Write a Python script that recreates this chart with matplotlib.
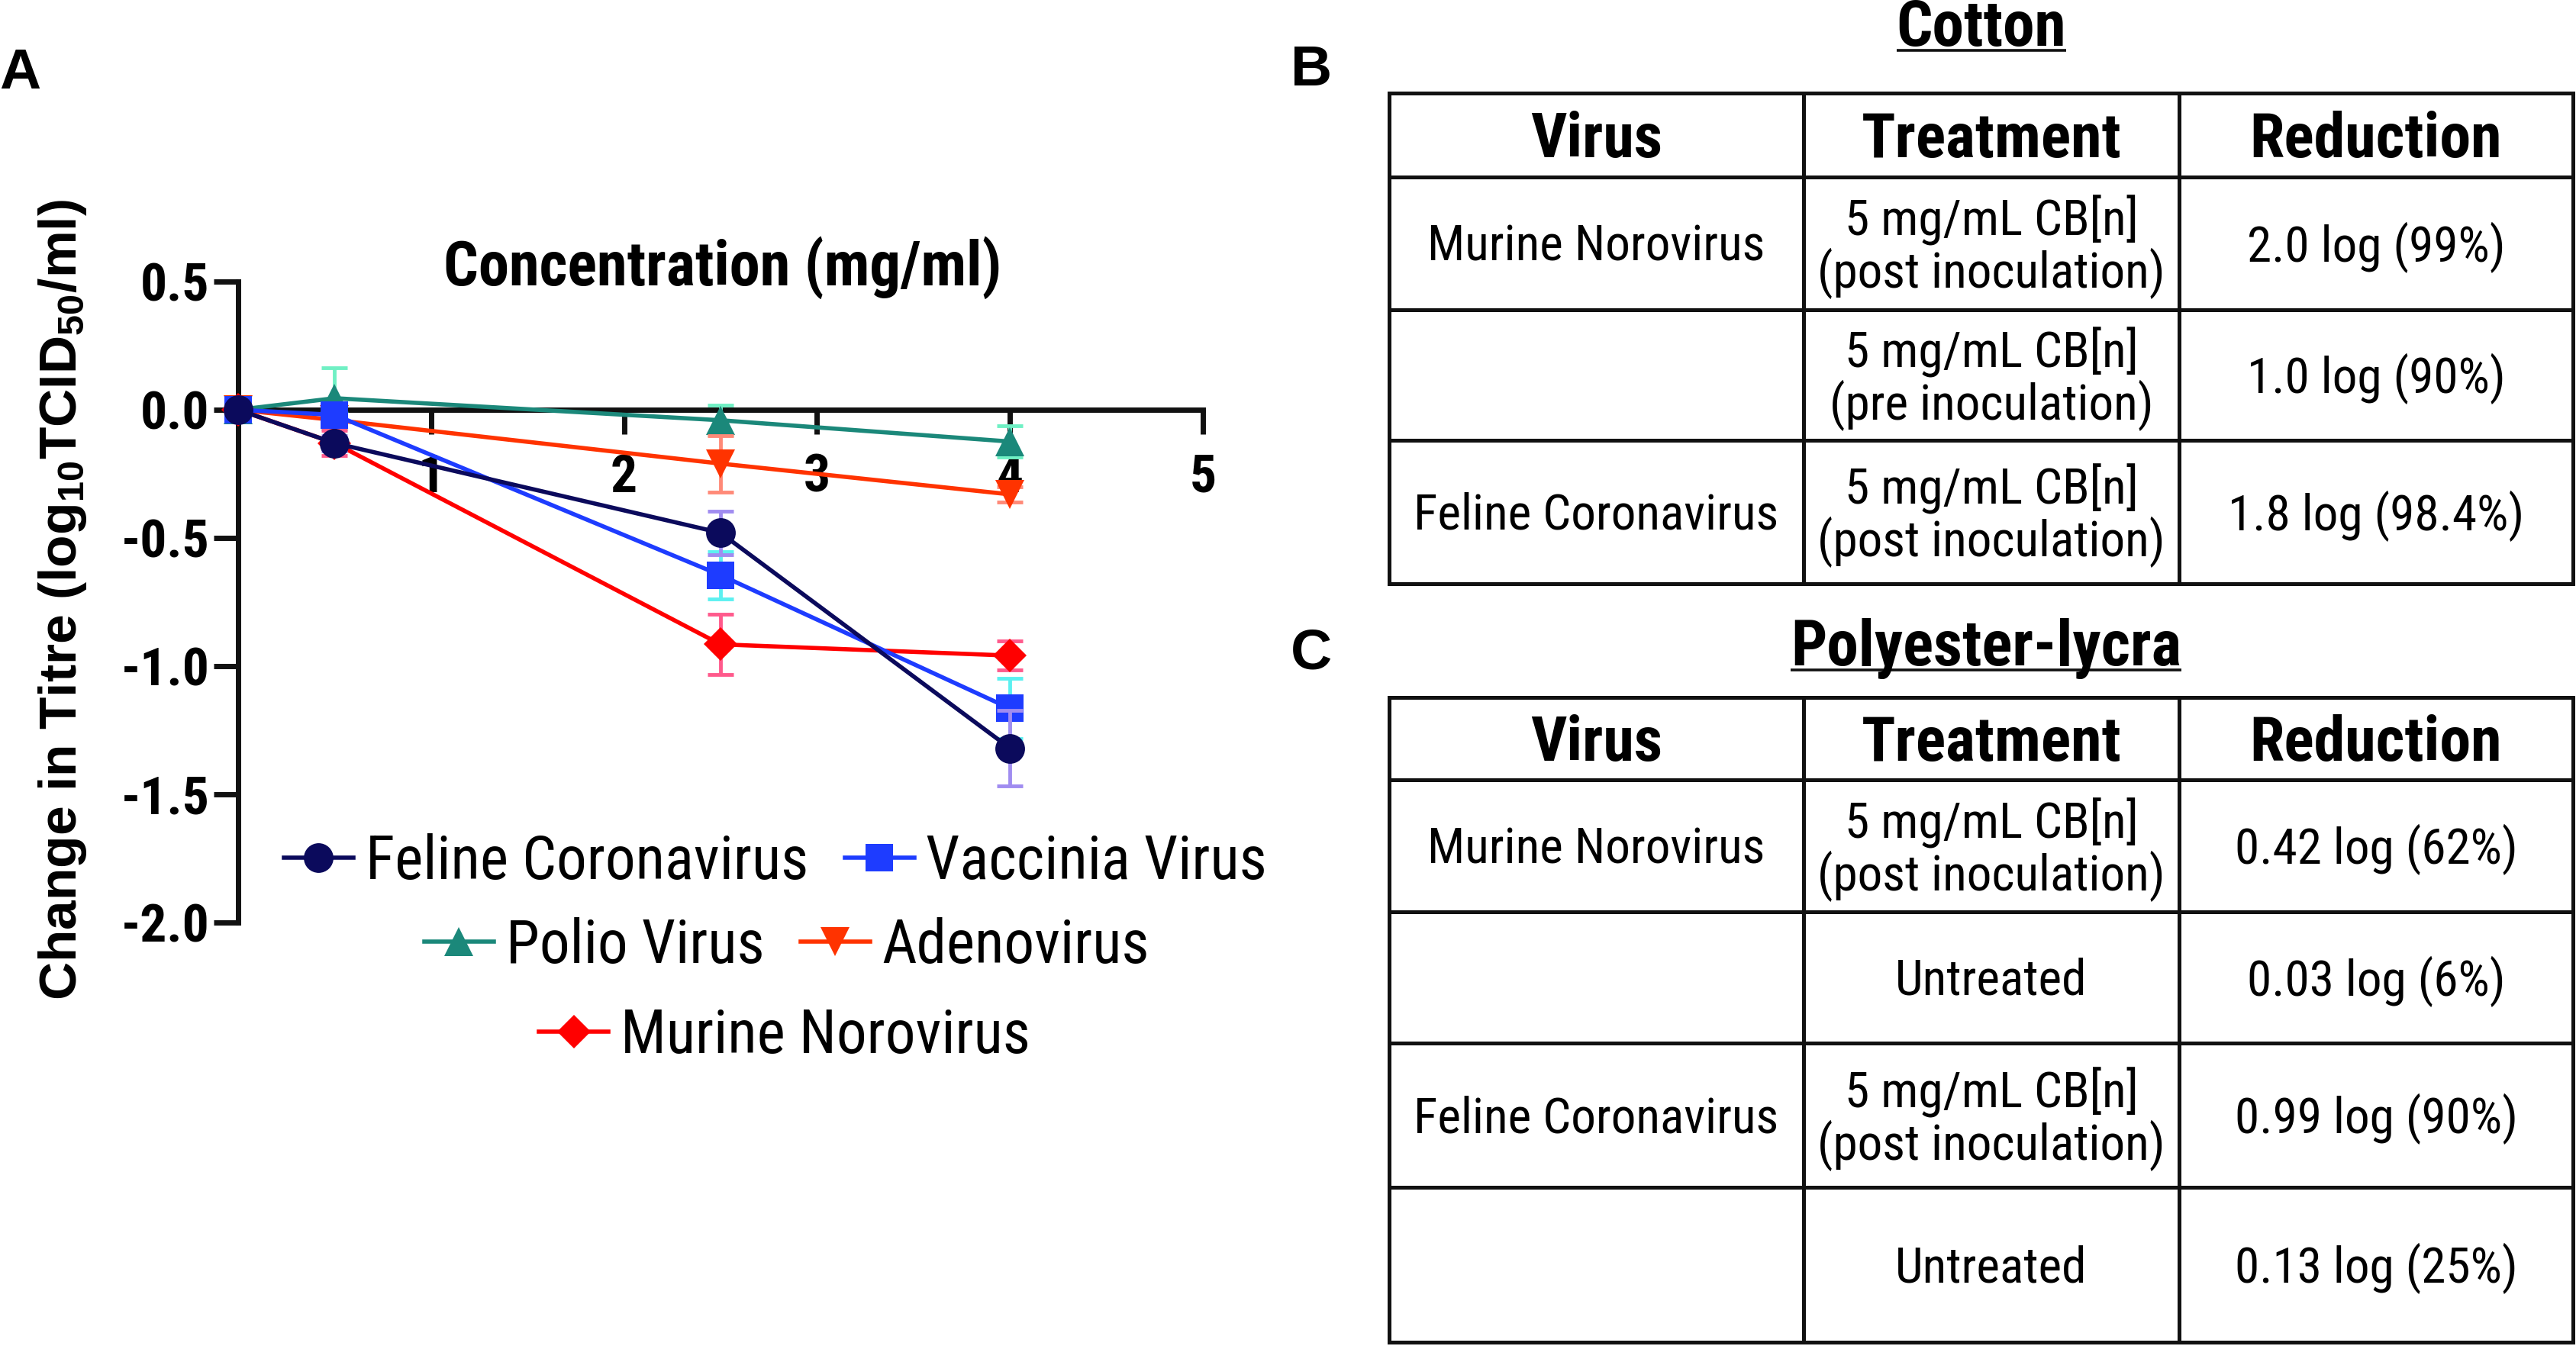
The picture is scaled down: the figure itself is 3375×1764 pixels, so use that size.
import matplotlib
matplotlib.use('Agg')
import matplotlib.pyplot as plt
from matplotlib import font_manager as fm

W, H = 3375, 1764
DPI = 100

names = {f.name for f in fm.fontManager.ttflist}
def pick(cands):
    for c in cands:
        if c in names:
            return c
    return 'DejaVu Sans'

NARROW = pick(['Roboto Condensed', 'Liberation Sans Narrow', 'Open Sans Condensed', 'Liberation Sans'])
ARIAL = pick(['Liberation Sans', 'Arial', 'DejaVu Sans'])
plt.rcParams['font.family'] = [NARROW, 'DejaVu Sans']
plt.rcParams['mathtext.default'] = 'regular'

# ---------------- data ----------------
concentration = [0, 0.5, 2.5, 4]
series_names = ['Feline Coronavirus', 'Vaccinia Virus', 'Polio Virus', 'Adenovirus', 'Murine Norovirus']
feline = [0, -0.13, -0.48, -1.32]
feline_err = [0, 0.03, 0.085, 0.148]
vaccinia = [0, -0.02, -0.645, -1.165]
vaccinia_err = [0, 0.02, 0.092, 0.118]
polio = [0, 0.045, -0.041, -0.124]
polio_err = [0, 0.12, 0.058, 0.062]
adeno = [0, -0.04, -0.21, -0.33]
adeno_err = [0, 0.02, 0.11, 0.03]
murine = [0, -0.13, -0.915, -0.959]
murine_err = [0, 0.05, 0.117, 0.056]

x_ticks = [1, 2, 3, 4, 5]
y_ticks = [0.5, 0.0, -0.5, -1.0, -1.5, -2.0]
y_tick_labels = ['0.5', '0.0', '-0.5', '-1.0', '-1.5', '-2.0']

table_cols = ['Virus', 'Treatment', 'Reduction']
cotton_virus = ['Murine Norovirus', '', 'Feline Coronavirus']
cotton_treatment = ['5 mg/mL CB[n]\n(post inoculation)', '5 mg/mL CB[n]\n(pre inoculation)',
                    '5 mg/mL CB[n]\n(post inoculation)']
cotton_reduction = ['2.0 log (99%)', '1.0 log (90%)', '1.8 log (98.4%)']
poly_virus = ['Murine Norovirus', '', 'Feline Coronavirus', '']
poly_treatment = ['5 mg/mL CB[n]\n(post inoculation)', 'Untreated',
                  '5 mg/mL CB[n]\n(post inoculation)', 'Untreated']
poly_reduction = ['0.42 log (62%)', '0.03 log (6%)', '0.99 log (90%)', '0.13 log (25%)']

# ---------------- styles ----------------
styles = {
    'Feline Coronavirus': dict(color='#0b0a5c', ecolor='#a08cf0', marker='o', ms=28),
    'Vaccinia Virus': dict(color='#1e3cff', ecolor='#5cf0f0', marker='s', ms=26),
    'Polio Virus': dict(color='#1b887a', ecolor='#70f0c4', marker='^', ms=28),
    'Adenovirus': dict(color='#ff3300', ecolor='#ff8a78', marker='v', ms=28),
    'Murine Norovirus': dict(color='#ff0000', ecolor='#ff5a8c', marker='D', ms=22),
}
series = {
    'Feline Coronavirus': (feline, feline_err),
    'Vaccinia Virus': (vaccinia, vaccinia_err),
    'Polio Virus': (polio, polio_err),
    'Adenovirus': (adeno, adeno_err),
    'Murine Norovirus': (murine, murine_err),
}
draw_order = ['Polio Virus', 'Adenovirus', 'Murine Norovirus', 'Vaccinia Virus', 'Feline Coronavirus']

fig = plt.figure(figsize=(W / DPI, H / DPI), dpi=DPI)
L, R, T, B = 312, 1576, 369, 1209
ax = fig.add_axes([L / W, 1 - B / H, (R - L) / W, (B - T) / H])
ax.patch.set_alpha(0)
ax.set_xlim(0, 5)
ax.set_ylim(-2.0, 0.5)

handles = {}
for i, name in enumerate(draw_order):
    vals, errs = series[name]
    st = styles[name]
    cont = ax.errorbar(concentration, vals, yerr=errs, color=st['color'], ecolor=st['ecolor'],
                       marker=st['marker'], ms=st['ms'], lw=4, elinewidth=3.5, capsize=12,
                       capthick=3.5, zorder=3 + i, clip_on=False)
    for art in cont.lines[1] + cont.lines[2]:
        art.set_clip_on(False)
    cont.lines[0].set_clip_on(False)
    cont.lines[0].set_markeredgewidth(0)
    handles[name] = cont.lines[0]

for s in ['top', 'right']:
    ax.spines[s].set_visible(False)
ax.spines['bottom'].set_position(('data', 0))
for s in ['left', 'bottom']:
    ax.spines[s].set_linewidth(5)
    ax.spines[s].set_color('#111111')
    ax.spines[s].set_zorder(2)
    ax.spines[s].set_capstyle('projecting')
ax.set_xticks(x_ticks)
ax.set_xticklabels([str(v) for v in x_ticks])
ax.set_yticks(y_ticks)
ax.set_yticklabels(y_tick_labels)
ax.tick_params(axis='both', length=23, width=5, color='#111111', labelsize=50, direction='out')
ax.tick_params(axis='x', pad=18)
ax.tick_params(axis='y', pad=4)
for lab in ax.get_xticklabels() + ax.get_yticklabels():
    lab.set_fontweight('bold')

# legends (3 rows)
rows = [(['Feline Coronavirus', 'Vaccinia Virus'], 1016, 1130),
        (['Polio Virus', 'Adenovirus'], 1031, 1240),
        (['Murine Norovirus'], 1028, 1358)]
for names_row, cx, cy in rows:
    fig.legend([handles[n] for n in names_row], names_row, loc='center',
               bbox_to_anchor=(cx / W, 1 - cy / H), ncol=len(names_row), frameon=False,
               fontsize=57, handlelength=1.15, handletextpad=0.2, columnspacing=0.6,
               borderpad=0, borderaxespad=0)

# ---------------- overlay ----------------
ov = fig.add_axes([0, 0, 1, 1], zorder=10)
ov.set_xlim(0, W)
ov.set_ylim(H, 0)
ov.axis('off')
ov.patch.set_alpha(0)

ov.text(947, 351, 'Concentration (mg/ml)', ha='center', va='center', fontsize=58, fontweight='bold')
ov.text(82, 786, r'Change in Titre (log$_{10}$TCID$_{50}$/ml)', rotation=90, ha='center', va='center',
        fontsize=50, fontweight='bold', family=[ARIAL, 'DejaVu Sans'])

for letter, px, py in [('A', 26, 97), ('B', 1718, 93), ('C', 1718, 857)]:
    ov.text(px, py, letter, ha='center', va='center', fontsize=54, fontweight='bold',
            family=[ARIAL, 'DejaVu Sans'])

col_edges = [1820, 2363, 2855, 3371]
LW = 3.6


def draw_table(row_edges, virus, treatment, reduction):
    x0, x1 = col_edges[0], col_edges[-1]
    for y in row_edges:
        ov.plot([x0, x1], [y, y], color='#111111', lw=LW, solid_capstyle='projecting')
    for x in col_edges:
        ov.plot([x, x], [row_edges[0], row_edges[-1]], color='#111111', lw=LW,
                solid_capstyle='projecting')
    centers = [(col_edges[i] + col_edges[i + 1]) / 2 for i in range(3)]
    hy = (row_edges[0] + row_edges[1]) / 2 + 7
    for c, t in zip(centers, table_cols):
        ov.text(c, hy, t, ha='center', va='center', fontsize=59, fontweight='bold')
    for r in range(len(virus)):
        cy = (row_edges[r + 1] + row_edges[r + 2]) / 2 + 5
        for c, t in zip(centers, [virus[r], treatment[r], reduction[r]]):
            ov.text(c, cy, t, ha='center', va='center', fontsize=47, linespacing=1.05)


draw_table([122, 232, 406, 577, 765], cotton_virus, cotton_treatment, cotton_reduction)
draw_table([914, 1022, 1195, 1367, 1556, 1759], poly_virus, poly_treatment, poly_reduction)

titles = []
for txt, cx, base in [('Cotton', 2596, 60), ('Polyester-lycra', 2602, 872)]:
    t = ov.text(cx, base, txt, ha='center', va='baseline', fontsize=60, fontweight='bold')
    titles.append((t, base))

fig.canvas.draw()
renderer = fig.canvas.get_renderer()
inv = ov.transData.inverted()
for t, base in titles:
    bb = t.get_window_extent(renderer)
    (xa, _), (xb, _) = inv.transform([(bb.x0, bb.y0), (bb.x1, bb.y1)])
    ov.plot([xa, xb], [base + 6, base + 6], color='#111111', lw=2.6, solid_capstyle='butt')

fig.savefig('out.png', dpi=DPI, facecolor='white')
